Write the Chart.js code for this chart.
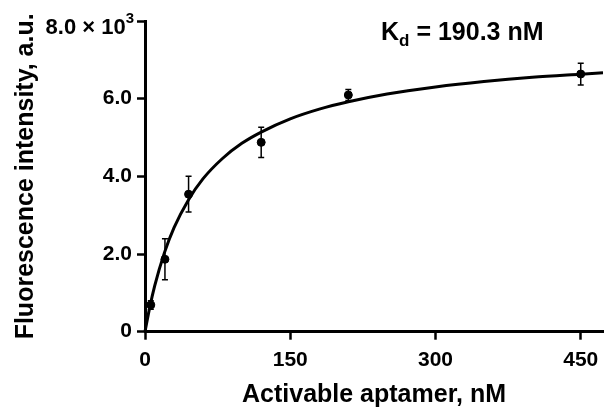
<!DOCTYPE html>
<html>
<head>
<meta charset="utf-8">
<script src="https://cdn.jsdelivr.net/npm/chart.js@4"></script>
<style>
  html, body { margin: 0; padding: 0; background: #fff; }
  #wrap { width: 608px; height: 412px; }
</style>
</head>
<body>
<div id="wrap"><canvas id="chart" width="608" height="412"></canvas></div>
<script>
// measured points (nM, a.u.)
const conc = [6, 20.6, 45, 120, 210, 450];
const signal = [690, 1865, 3540, 4875, 6095, 6635];
const errors = [110, 530, 460, 390, 140, 280];

// fitted curve
const fitX = [0, 5, 10, 20, 30, 45, 60, 80, 100, 120, 150, 180, 210, 250, 300, 350, 400, 450, 473];
const fitY = [0, 640, 1180, 2030, 2680, 3400, 3940, 4460, 4850, 5140, 5480, 5730, 5920, 6120, 6300, 6440, 6550, 6630, 6665];

const xTicks = [0, 150, 300, 450];
const yTicks = [0, 2000, 4000, 6000, 8000];
// top label is drawn by hand (needs the raised exponent)
const yTickText = ['0', '2.0', '4.0', '6.0', ''];

const fontName = '"Liberation Sans", Arial, sans-serif';

// error bars, top tick label and Kd label
const extras = {
    id: 'extras',
    afterDatasetsDraw(chart) {
        const ctx = chart.ctx;
        const x = chart.scales.x;
        const y = chart.scales.y;
        ctx.save();
        ctx.strokeStyle = '#000';
        ctx.lineWidth = 1.5;
        for (let i = 0; i < conc.length; i++) {
            const px = x.getPixelForValue(conc[i]);
            const top = y.getPixelForValue(signal[i] + errors[i]);
            const bot = y.getPixelForValue(signal[i] - errors[i]);
            ctx.beginPath();
            ctx.moveTo(px, top); ctx.lineTo(px, bot);
            ctx.moveTo(px - 3, top); ctx.lineTo(px + 3, top);
            ctx.moveTo(px - 3, bot); ctx.lineTo(px + 3, bot);
            ctx.stroke();
        }
        ctx.fillStyle = '#000';
        ctx.textBaseline = 'alphabetic';
        ctx.textAlign = 'left';

        // "8.0 × 10^3"
        const yTop = y.getPixelForValue(8000);
        ctx.font = 'bold 15px ' + fontName;
        const supW = ctx.measureText('3').width;
        ctx.font = 'bold 22px ' + fontName;
        const mainW = ctx.measureText('8.0 × 10').width;
        let lx = 134 - supW - mainW;
        ctx.fillText('8.0 × 10', lx, yTop + 12.5);
        ctx.font = 'bold 15px ' + fontName;
        ctx.fillText('3', lx + mainW, yTop + 2);

        // Kd text
        let tx = 381;
        const base = 39.5;
        ctx.font = 'bold 25px ' + fontName;
        ctx.fillText('K', tx, base);
        tx += ctx.measureText('K').width;
        ctx.font = 'bold 17px ' + fontName;
        ctx.fillText('d', tx, base + 6);
        tx += ctx.measureText('d').width;
        ctx.font = 'bold 25px ' + fontName;
        ctx.fillText(' = 190.3 nM', tx, base);
        ctx.restore();
    }
};

new Chart(document.getElementById('chart'), {
    data: {
        datasets: [{
            type: 'line',
            data: fitX.map((v, i) => ({ x: v, y: fitY[i] })),
            borderColor: '#000',
            borderWidth: 3,
            pointRadius: 0,
            cubicInterpolationMode: 'monotone',
            fill: false,
            clip: false
        }, {
            type: 'scatter',
            data: conc.map((v, i) => ({ x: v, y: signal[i] })),
            backgroundColor: '#000',
            borderColor: '#000',
            pointRadius: 4,
            clip: false
        }]
    },
    plugins: [extras],
    options: {
        responsive: false,
        animation: false,
        devicePixelRatio: 1,
        layout: { padding: { top: 21, right: 2, bottom: 2, left: 0 } },
        plugins: { legend: { display: false }, tooltip: { enabled: false } },
        scales: {
            x: {
                type: 'linear',
                min: 0,
                max: 473,
                afterBuildTicks: s => { s.ticks = xTicks.map(v => ({ value: v })); },
                afterFit: s => { s.height = 78.3; },
                border: { display: true, color: '#000', width: 3 },
                grid: { drawOnChartArea: false, drawTicks: true, tickLength: 8, tickWidth: 2.5, tickColor: '#000' },
                ticks: {
                    color: '#000',
                    padding: 8,
                    maxRotation: 0,
                    font: { family: fontName, size: 21, weight: 'bold' }
                },
                title: {
                    display: true,
                    text: 'Activable aptamer, nM',
                    color: '#000',
                    padding: { top: 0, bottom: 0 },
                    font: { family: fontName, size: 25, weight: 'bold' }
                }
            },
            y: {
                type: 'linear',
                min: 0,
                max: 8000,
                afterBuildTicks: s => { s.ticks = yTicks.map(v => ({ value: v })); },
                afterFit: s => { s.width = 145; },
                border: { display: true, color: '#000', width: 3 },
                grid: { drawOnChartArea: false, drawTicks: true, tickLength: 8, tickWidth: 2.5, tickColor: '#000' },
                ticks: {
                    color: '#000',
                    padding: 5,
                    font: { family: fontName, size: 21, weight: 'bold' },
                    callback: (v) => yTickText[yTicks.indexOf(v)]
                },
                title: {
                    display: true,
                    text: 'Fluorescence intensity, a.u.',
                    color: '#000',
                    padding: { top: 11, bottom: 0 },
                    font: { family: fontName, size: 25, weight: 'bold' }
                }
            }
        }
    }
});
</script>
</body>
</html>
